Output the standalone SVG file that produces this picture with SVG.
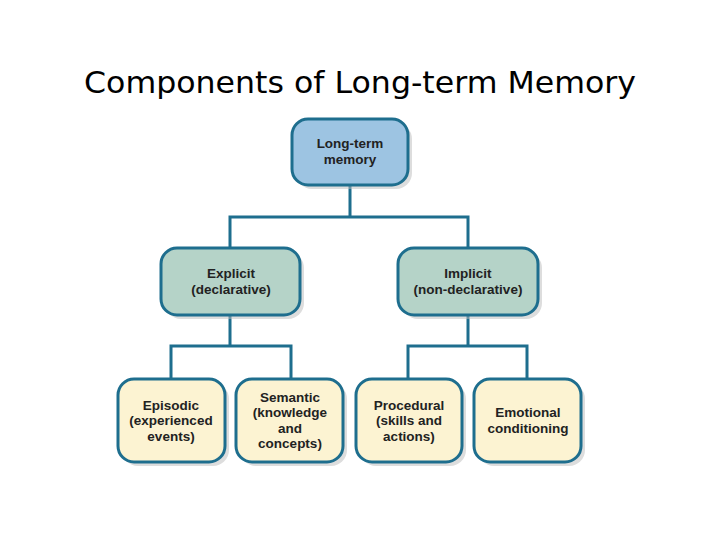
<svg xmlns="http://www.w3.org/2000/svg" width="720" height="540" viewBox="0 0 720 540">
<style>
.t{font-family:"Liberation Sans",Arial,sans-serif;font-weight:bold;font-size:13.5px;fill:#222;text-anchor:middle}
.b{stroke:#1e6e8e;stroke-width:3}
.c{fill:none;stroke:#1e6e8e;stroke-width:3}
.s{fill:#bbb;opacity:0.5}
</style>
<rect width="720" height="540" fill="#fff"/>
<text x="360" y="93" font-family="DejaVu Sans,Verdana,sans-serif" font-size="31" text-anchor="middle" fill="#000" textLength="552" lengthAdjust="spacingAndGlyphs">Components of Long-term Memory</text>
<g id="connectors">
<path class="c" d="M350 185V217M230 248V217H468V248M230 315V346M171 379V346H291V379M468 315V346M408 379V346H527V379"/>
</g>
<g id="n-ltm"><rect class="s" x="296" y="123" width="116" height="66" rx="16"/><rect class="b" x="292" y="119" width="116" height="66" rx="16" fill="#9dc4e2"/><text class="t" x="350" y="148">Long-term</text><text class="t" x="350" y="164">memory</text></g>
<g id="n-explicit"><rect class="s" x="165" y="252" width="139" height="67" rx="16"/><rect class="b" x="161" y="248" width="139" height="67" rx="16" fill="#b5d3c8"/><text class="t" x="231" y="278">Explicit</text><text class="t" x="231" y="294">(declarative)</text></g>
<g id="n-implicit"><rect class="s" x="402" y="252" width="140" height="67" rx="16"/><rect class="b" x="398" y="248" width="140" height="67" rx="16" fill="#b5d3c8"/><text class="t" x="468" y="278">Implicit</text><text class="t" x="468" y="294">(non-declarative)</text></g>
<g id="n-episodic"><rect class="s" x="122" y="383" width="107" height="83" rx="16"/><rect class="b" x="118" y="379" width="107" height="83" rx="16" fill="#fcf3d2"/><text class="t" x="171" y="410">Episodic</text><text class="t" x="171" y="425">(experienced</text><text class="t" x="171" y="441">events)</text></g>
<g id="n-semantic"><rect class="s" x="240" y="383" width="107" height="83" rx="16"/><rect class="b" x="236" y="379" width="107" height="83" rx="16" fill="#fcf3d2"/><text class="t" x="290" y="402">Semantic</text><text class="t" x="290" y="417">(knowledge</text><text class="t" x="290" y="433">and</text><text class="t" x="290" y="448">concepts)</text></g>
<g id="n-procedural"><rect class="s" x="360" y="383" width="106" height="83" rx="16"/><rect class="b" x="356" y="379" width="106" height="83" rx="16" fill="#fcf3d2"/><text class="t" x="409" y="410">Procedural</text><text class="t" x="409" y="425">(skills and</text><text class="t" x="409" y="441">actions)</text></g>
<g id="n-emotional"><rect class="s" x="478" y="383" width="107" height="83" rx="16"/><rect class="b" x="474" y="379" width="107" height="83" rx="16" fill="#fcf3d2"/><text class="t" x="528" y="417">Emotional</text><text class="t" x="528" y="433">conditioning</text></g>
</svg>
